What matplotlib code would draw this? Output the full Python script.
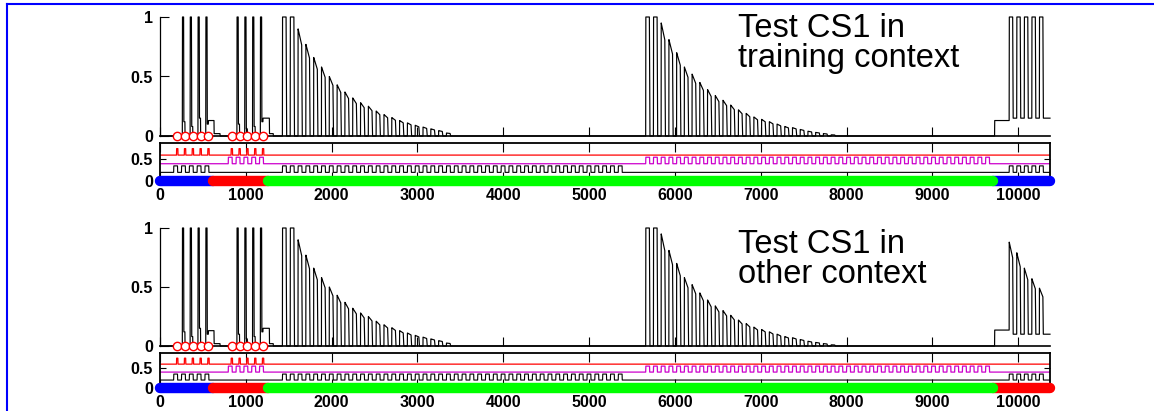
import numpy as np
import matplotlib
matplotlib.use('Agg')
import matplotlib.pyplot as plt
from matplotlib.lines import Line2D

plt.rcParams['font.family'] = ['Liberation Sans', 'DejaVu Sans']

# ---------------- data ----------------
X_MAX = 10370
x_ticks = [0, 1000, 2000, 3000, 4000, 5000, 6000, 7000, 8000, 9000, 10000]
x_tick_labels = ['0', '1000', '2000', '3000', '4000', '5000', '6000', '7000', '8000', '9000', '10000']
main_y_ticks = [0, 0.5, 1]
main_y_labels = ['0', '0.5', '1']
stim_y_ticks = [0, 0.5]
stim_y_labels = ['0', '0.5']

# acquisition: CS1 + US (context A), CS2 + US (context B)
acq1_onsets = [160, 251, 342, 433, 524]
acq1_spike = [0.0, 1.0, 1.0, 1.0, 1.0]
acq1_resid = [0.0, 0.12, 0.08, 0.15, 0.10]
acq2_onsets = [796, 887, 978, 1069, 1160]
acq2_spike = [0.0, 1.0, 1.0, 1.0, 1.0]
acq2_resid = [0.0, 0.10, 0.06, 0.08, 0.12]
us_times = [200, 291, 382, 473, 564, 836, 927, 1018, 1109, 1200]
post_acq_start = [564, 630, 1200, 1275]
post_acq_end = [630, 700, 1275, 1320]
post_acq_level = [0.13, 0.02, 0.15, 0.02]

# extinction of CS1
ext1_onsets = [1427, 1518, 1609, 1700, 1791, 1882, 1973, 2064, 2155, 2246, 2337,
               2428, 2519, 2610, 2701, 2792, 2883, 2974, 3065, 3156, 3247, 3338,
               3429, 3520, 3611, 3702, 3793, 3884, 3975, 4066, 4157, 4248, 4339,
               4430, 4521, 4612, 4703, 4794, 4885, 4976, 5067, 5158, 5249, 5340]
ext1_amp = [1.0, 1.0, 0.90, 0.77, 0.66, 0.58, 0.50, 0.43, 0.37, 0.32, 0.28,
            0.25, 0.21, 0.18, 0.155, 0.13, 0.11, 0.09, 0.075, 0.06, 0.045, 0.025,
            0, 0, 0, 0, 0, 0, 0, 0, 0, 0, 0, 0, 0, 0, 0, 0, 0, 0, 0, 0, 0, 0]

# extinction of CS2
ext2_onsets = [5660, 5750, 5840, 5930, 6020, 6110, 6200, 6290, 6380, 6470, 6560,
               6650, 6740, 6830, 6920, 7010, 7100, 7190, 7280, 7370, 7460, 7550,
               7640, 7730, 7820, 7910, 8000, 8090, 8180, 8270, 8360, 8450, 8540,
               8630, 8720, 8810, 8900, 8990, 9080, 9170, 9260, 9350, 9440, 9530, 9620]
ext2_amp = [1.0, 1.0, 0.95, 0.81, 0.70, 0.58, 0.52, 0.45, 0.39, 0.34, 0.30,
            0.26, 0.22, 0.19, 0.16, 0.14, 0.12, 0.10, 0.08, 0.07, 0.055, 0.04,
            0.03, 0.02, 0.01,
            0, 0, 0, 0, 0, 0, 0, 0, 0, 0, 0, 0, 0, 0, 0, 0, 0, 0, 0, 0]

# test of CS1
test_onsets = [9895, 9983, 10071, 10159, 10247]
test_amp_top = [1.0, 1.0, 1.0, 1.0, 1.0]
test_amp_bottom = [0.88, 0.79, 0.66, 0.57, 0.49]
test_switch = 9725
test_pre_top, test_post_top = 0.13, 0.15
test_pre_bottom, test_post_bottom = 0.135, 0.10

# context bar
context_edges = [0, 616, 1256, 9710, 10370]
context_colors_top = ['#0000ff', '#ff0000', '#00ff00', '#0000ff']
context_colors_bottom = ['#0000ff', '#ff0000', '#00ff00', '#ff0000']

panel_text_top = ['Test CS1 in', 'training context']
panel_text_bottom = ['Test CS1 in', 'other context']

# stimulus traces: baseline levels
cs1_base, cs2_base, us_base, stim_h = 0.2, 0.4, 0.6, 0.15

# ---------------- helpers ----------------
t = np.arange(0, X_MAX + 1, 1.0)


def add_level(y, start, end, level):
    m = (t >= start) & (t < end)
    y[m] = np.maximum(y[m], level)


def add_pulse(y, onset, amp, width=42, droop=0.85, fall=6):
    if amp <= 0:
        return
    top_end = amp if amp >= 1 else amp * droop
    m = (t >= onset) & (t < onset + width)
    y[m] = np.maximum(y[m], np.interp(t[m], [onset, onset + width], [amp, top_end]))
    mf = (t >= onset + width) & (t < onset + width + fall)
    y[mf] = np.maximum(y[mf], np.interp(t[mf], [onset + width, onset + width + fall], [top_end, 0]))


def response_trace(test_amp, pre, post):
    y = np.zeros_like(t)
    for onsets, spikes, resid in ((acq1_onsets, acq1_spike, acq1_resid),
                                  (acq2_onsets, acq2_spike, acq2_resid)):
        for on, sp, r in zip(onsets, spikes, resid):
            add_pulse(y, on + 10, sp, width=14, droop=1, fall=3)
            add_level(y, on + 26, on + 40, r)
    for s, e, l in zip(post_acq_start, post_acq_end, post_acq_level):
        add_level(y, s, e, l)
    for on, a in zip(ext1_onsets, ext1_amp):
        add_pulse(y, on, a)
    for on, a in zip(ext2_onsets, ext2_amp):
        add_pulse(y, on, a)
    add_level(y, test_switch, test_onsets[0], pre)
    add_level(y, test_onsets[0], X_MAX + 1, post)
    for on, a in zip(test_onsets, test_amp):
        add_pulse(y, on, a, width=40)
    return y


def square_trace(base, onsets, width, h=stim_h, offset=0):
    y = np.full_like(t, base)
    for on in onsets:
        m = (t >= on + offset) & (t < on + offset + width)
        y[m] = base + h
    return y


cs1_trace = square_trace(cs1_base, acq1_onsets + ext1_onsets + test_onsets, 45)
cs2_trace = square_trace(cs2_base, acq2_onsets + ext2_onsets, 45)
us_trace = square_trace(us_base, acq1_onsets + acq2_onsets, 16, offset=33)

# ---------------- figure ----------------
W, H = 1154, 411
fig = plt.figure(figsize=(W / 100, H / 100), dpi=100)

tick_font = dict(fontsize=11.5, fontweight='bold')


def px_axes(x0, x1, ytop, ybot):
    return fig.add_axes([x0 / W, 1 - ybot / H, (x1 - x0) / W, (ybot - ytop) / H])


def draw_panel(main_box, stim_box, text_base, test_amp, pre, post, colors, texts):
    ax = px_axes(160, 1050, *main_box)
    ax.plot(t, response_trace(test_amp, pre, post), color='black', lw=0.85, clip_on=False)
    ax.plot(us_times, np.zeros(len(us_times)), 'o', mfc='white', mec='#ff0000',
            ms=6, mew=1.0, clip_on=False, zorder=5)
    ax.set_xlim(0, X_MAX)
    ax.set_ylim(0, 1)
    ax.spines['top'].set_visible(False)
    ax.spines['right'].set_visible(False)
    ax.spines['left'].set_linewidth(0.9)
    ax.spines['bottom'].set_linewidth(1.2)
    ax.set_xticks(x_ticks)
    ax.set_xticklabels([])
    ax.set_yticks(main_y_ticks)
    ax.set_yticklabels(main_y_labels, **tick_font)
    ax.tick_params(direction='in', length=6.5, width=0.8, pad=5)

    sx = px_axes(160, 1050, *stim_box)
    sx.plot(t, us_trace, color='#ff0000', lw=0.9)
    sx.plot(t, cs2_trace, color='#cc00cc', lw=0.9)
    sx.plot(t, cs1_trace, color='black', lw=0.8)
    order = [3, 0, 1, 2]
    for i in order:
        sx.plot([context_edges[i], context_edges[i + 1]], [0, 0], color=colors[i],
                lw=7.5, solid_capstyle='round', clip_on=False, zorder=6)
    sx.set_xlim(0, X_MAX)
    sx.set_ylim(0, 0.88)
    for sp in sx.spines.values():
        sp.set_linewidth(1.3)
    sx.set_xticks(x_ticks)
    sx.set_xticklabels(x_tick_labels, **tick_font)
    sx.set_yticks(stim_y_ticks)
    sx.set_yticklabels(stim_y_labels, **tick_font)
    sx.tick_params(direction='in', top=True, right=True, width=0.8, pad=5)
    sx.tick_params(axis='x', length=6.5, pad=5)
    sx.tick_params(axis='y', length=4.5)

    fig.text(738 / W, 1 - text_base[0] / H, texts[0], fontsize=23.5,
             ha='left', va='baseline')
    fig.text(738 / W, 1 - text_base[1] / H, texts[1], fontsize=23.5,
             ha='left', va='baseline')


draw_panel((17, 136), (143, 181), (37, 67), test_amp_top, test_pre_top, test_post_top,
           context_colors_top, panel_text_top)
draw_panel((228, 346), (353, 388), (253, 283), test_amp_bottom, test_pre_bottom,
           test_post_bottom, context_colors_bottom, panel_text_bottom)

# blue frame
fig.add_artist(Line2D([7 / W, 7 / W], [0, 1 - 4 / H], color='#0000ff', lw=1.5,
                      transform=fig.transFigure))
fig.add_artist(Line2D([7 / W, 1], [1 - 4 / H, 1 - 4 / H], color='#0000ff', lw=1.5,
                      transform=fig.transFigure))

fig.savefig('out.png', dpi=100)
